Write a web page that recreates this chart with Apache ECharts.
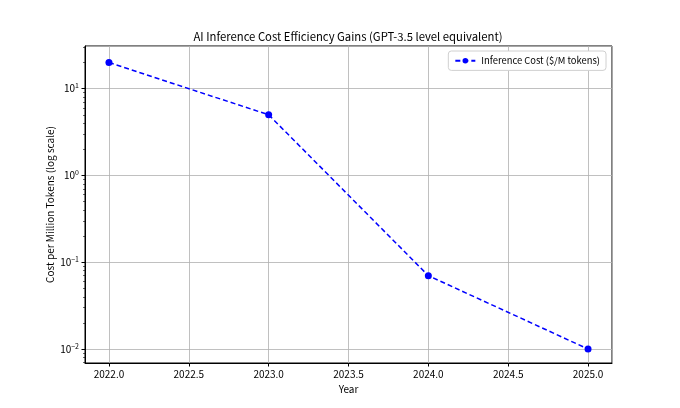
<!DOCTYPE html>
<html style="height:100%;width:100%;">
<head>
  <meta charset="utf-8">
  <title>AI Inference Cost</title>
  <script src="https://cdn.jsdelivr.net/npm/echarts@6/dist/echarts.min.js"></script>
</head>
<body style="margin:0px;height:100%;width:100%;background:#fff;">
  <div id="main" style="width:680px;height:408px"></div>
  <script type="text/javascript">
    // data
    var years = [2022, 2023, 2024, 2025];
    var costs = [20, 5, 0.07, 0.01];
    var xTickLabels = ['2022.0', '2022.5', '2023.0', '2023.5', '2024.0', '2024.5', '2025.0'];
    var minorTicks = [0.007, 0.008, 0.009, 0.02, 0.03, 0.04, 0.05, 0.06, 0.07, 0.08, 0.09,
      0.2, 0.3, 0.4, 0.5, 0.6, 0.7, 0.8, 0.9, 2, 3, 4, 5, 6, 7, 8, 9, 20, 30];

    var font = '"Noto Sans CJK JP", "Noto Sans", sans-serif';
    var myChart = echarts.init(document.getElementById('main'));

    var points = years.map(function (y, i) { return [y, costs[i]]; });

    function supLabel(v) {
      var e = Math.round(Math.log10(v));
      if (Math.abs(Math.log10(v) - e) > 1e-6) return '';
      var s = e < 0 ? '\u2212' + (-e) : '' + e;
      return '{b|10}{s|' + s + '}';
    }

    var option = {
      backgroundColor: '#fff',
      textStyle: { fontFamily: font },
      title: {
        text: 'AI Inference Cost Efficiency Gains (GPT-3.5 level equivalent)',
        left: 348, top: 31, textAlign: 'center', padding: 0,
        textStyle: { fontFamily: font, fontSize: 11.3, fontWeight: 'normal', color: '#000' }
      },
      legend: {
        right: 74, top: 51,
        padding: [5, 6, 5, 6],
        borderColor: '#d0d0d0', borderWidth: 1, borderRadius: 3,
        backgroundColor: '#fff',
        itemWidth: 20, itemHeight: 7, itemGap: 6,
        textStyle: { fontFamily: font, fontSize: 9.4, color: '#000', padding: [0, 0, 0, 1] },
        data: ['Inference Cost ($/M tokens)']
      },
      grid: {
        left: 85, right: 68, top: 46, bottom: 45,
        show: true, borderColor: '#000', borderWidth: 1, backgroundColor: '#fff'
      },
      xAxis: {
        type: 'value', min: 2021.85, max: 2025.15,
        name: 'Year', nameLocation: 'middle', nameGap: 20,
        nameTextStyle: { fontFamily: font, fontSize: 10, color: '#000' },
        axisLine: { lineStyle: { color: '#000' } },
        axisTick: { length: 3.5, lineStyle: { color: '#000' } },
        axisLabel: {
          fontFamily: font, fontSize: 10, color: '#000', margin: 6,
          showMinLabel: false, showMaxLabel: false,
          formatter: function (v) {
            var s = v.toFixed(1);
            return xTickLabels.indexOf(s) >= 0 ? s : '';
          }
        },
        splitLine: { show: true, lineStyle: { color: '#b0b0b0', width: 0.8 } }
      },
      yAxis: [{
        type: 'log', logBase: 10, min: 0.0069, max: 31,
        name: 'Cost per Million Tokens (log scale)', nameLocation: 'middle', nameGap: 30,
        nameMoveOverlap: false,
        nameTextStyle: { fontFamily: font, fontSize: 10, color: '#000' },
        axisLine: { lineStyle: { color: '#000' } },
        axisTick: { length: 3.5, lineStyle: { color: '#000' } },
        axisLabel: {
          color: '#000', margin: 6,
          showMinLabel: false, showMaxLabel: false,
          formatter: supLabel,
          rich: {
            b: { fontFamily: font, fontSize: 10, color: '#000' },
            s: { fontFamily: font, fontSize: 7, color: '#000', padding: [0, 0, 6, 0] }
          }
        },
        splitLine: { show: true, lineStyle: { color: '#b0b0b0', width: 0.8 } }
      }, {
        type: 'log', logBase: 10, min: 0.0069, max: 31, position: 'left',
        axisLine: { show: false },
        axisTick: { show: true, length: 2, customValues: minorTicks, lineStyle: { color: '#000', width: 0.6 } },
        axisLabel: { show: false },
        splitLine: { show: false }
      }],
      series: [{
        name: 'Inference Cost ($/M tokens)',
        type: 'line',
        data: points,
        symbol: 'circle', symbolSize: 7,
        color: '#0000ff',
        itemStyle: { color: '#0000ff' },
        lineStyle: { color: '#0000ff', width: 1.5, type: [5, 3] },
        z: 3
      }]
    };

    myChart.setOption(option);
  </script>
</body>
</html>
